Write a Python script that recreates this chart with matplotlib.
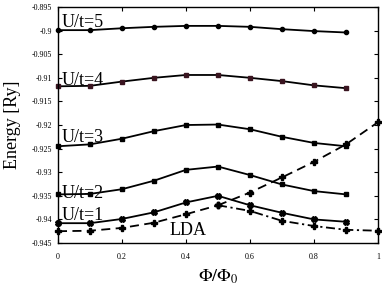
import matplotlib
matplotlib.use("Agg")
import matplotlib.pyplot as plt
import numpy as np

plt.rcParams['font.family'] = ['Liberation Serif', 'DejaVu Serif']
plt.rcParams['mathtext.fontset'] = 'stix'

phi = [0.0, 0.1, 0.2, 0.3, 0.4, 0.5, 0.6, 0.7, 0.8, 0.9]
u5 = [-0.8999, -0.8999, -0.8995, -0.8992, -0.8990, -0.8990, -0.8992, -0.8997, -0.9001, -0.9004]
u4 = [-0.9118, -0.9117, -0.9108, -0.9100, -0.9094, -0.9094, -0.9100, -0.9107, -0.9116, -0.9122]
u3 = [-0.9245, -0.9241, -0.9229, -0.9213, -0.9200, -0.9199, -0.9209, -0.9225, -0.9238, -0.9245]
u2 = [-0.9347, -0.9346, -0.9336, -0.9318, -0.9295, -0.9288, -0.9306, -0.9326, -0.9340, -0.9347]
u1 = [-0.9408, -0.9408, -0.9399, -0.9385, -0.9364, -0.9350, -0.9370, -0.9386, -0.9400, -0.9405]
lda_phi = [0.0, 0.1, 0.2, 0.3, 0.4, 0.5]
lda = [-0.9425, -0.9424, -0.9418, -0.9407, -0.9389, -0.9370]
lda_up_phi = [0.5, 0.6, 0.7, 0.8, 0.9, 1.0]
lda_up = [-0.9370, -0.9343, -0.9311, -0.9278, -0.9241, -0.9194]
lda_dn_phi = [0.5, 0.6, 0.7, 0.8, 0.9, 1.0]
lda_dn = [-0.9370, -0.9382, -0.9403, -0.9414, -0.9422, -0.9424]

labels = ["U/t=5", "U/t=4", "U/t=3", "U/t=2", "U/t=1", "LDA"]
label_x = [0.012, 0.012, 0.012, 0.012, 0.012, 0.35]
label_y = [-0.8993, -0.9116, -0.9236, -0.9355, -0.9401, -0.9433]

fig = plt.figure(figsize=(3.82, 2.86), dpi=100)
ax = fig.add_axes([0.1518, 0.1503, 0.8377, 0.8252])

lw = 1.3
ax.plot(phi, u5, '-', color='black', lw=lw, marker='o', ms=3.0, clip_on=False)
ax.plot(phi, u4, '-', color='black', lw=lw, marker='s', ms=3.0, mfc='#3a1520', mec='#3a1520', clip_on=False)
ax.plot(phi, u3, '-', color='black', lw=lw, marker='s', ms=3.0, clip_on=False)
ax.plot(phi, u2, '-', color='black', lw=lw, marker='s', ms=2.8, clip_on=False)
ax.plot(phi, u1, '-', color='black', lw=lw, marker='X', ms=4.0, clip_on=False)
ax.plot(lda_phi, lda, '--', color='black', lw=lw, marker='P', ms=3.8, clip_on=False, dashes=(5, 3))
ax.plot(lda_up_phi, lda_up, '--', color='black', lw=lw, marker='P', ms=3.8, clip_on=False, dashes=(5, 3))
ax.plot(lda_dn_phi, lda_dn, '-.', color='black', lw=lw, marker='P', ms=3.8, clip_on=False, dashes=(5, 2, 1.2, 2))

for t, x, y in zip(labels, label_x, label_y):
    ax.text(x, y, t, fontsize=13, ha='left', va='baseline')

ax.set_xlim(0, 1)
ax.set_ylim(-0.945, -0.895)
xt = [0, 0.2, 0.4, 0.6, 0.8, 1.0]
ax.set_xticks(xt)
ax.set_xticklabels(["0", "0.2", "0.4", "0.6", "0.8", "1"])
yt = np.arange(-0.945, -0.8949, 0.005)
ax.set_yticks(yt)
ax.set_yticklabels(["%g" % round(v, 3) for v in yt])
ax.tick_params(direction='in', length=3, width=0.8, labelsize=5.8, top=True, right=True)
ax.tick_params(axis='x', pad=7)
ax.tick_params(axis='y', pad=4)
for s in ax.spines.values():
    s.set_linewidth(1.0)

ax.set_xlabel(r'$\Phi/\Phi_0$', fontsize=13, labelpad=5)
ax.set_ylabel('Energy [Ry]', fontsize=13, labelpad=8)

fig.savefig('out.png', dpi=100)
